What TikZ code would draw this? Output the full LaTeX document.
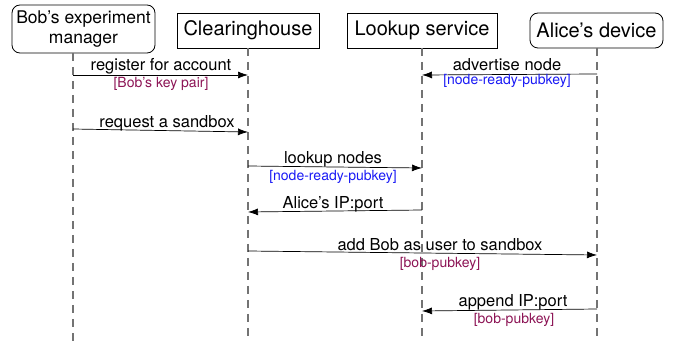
\documentclass[tikz,border=0pt]{standalone}
\usepackage{fontspec}
\setmainfont{TeX Gyre Heros}
\usetikzlibrary{arrows.meta}
\definecolor{keypurple}{RGB}{140,20,85}
\definecolor{keyblue}{RGB}{25,25,245}
\tikzset{
  actor/.style={draw=black, line width=0.8pt, minimum height=35pt, inner sep=2pt, align=center, font=\fontsize{20}{21}\selectfont},
  ractor/.style={actor, rounded corners=8pt},
  lifeline/.style={draw=black!55, line width=1.8pt, dash pattern=on 8pt off 6pt},
  msg/.style={draw=black, line width=0.7pt, -{Latex[length=10pt,width=7pt]}},
  lbl/.style={font=\fontsize{16.5}{17}\selectfont, inner sep=0pt},
  sub/.style={font=\fontsize{14}{15}\selectfont, inner sep=0pt},
}
\begin{document}
\begin{tikzpicture}[x=1pt,y=-1pt]
\useasboundingbox (0,0) rectangle (673,342);
% actors
\node[ractor, minimum width=143pt, minimum height=48pt, font=\fontsize{17.5}{20}\selectfont] (bob) at (83.5,29) {Bob’s experiment\\manager};
\node[actor, minimum width=142pt] (ch) at (248,30.5) {Clearinghouse};
\node[actor, minimum width=150pt] (ls) at (422,30.5) {Lookup service};
\node[ractor, minimum width=133pt] (al) at (596.5,30.5) {Alice’s device};
% lifeline ends
\coordinate (bobT) at (73,53); \coordinate (bobB) at (73,342);
\coordinate (chT) at (248,48); \coordinate (chB) at (248,342);
\coordinate (lsT) at (422,48); \coordinate (lsB) at (422,342);
\coordinate (alT) at (597,48); \coordinate (alB) at (597,342);
\draw[lifeline] (bobT) -- (bobB);
\draw[lifeline] (chT) -- (chB);
\draw[lifeline] (lsT) -- (lsB);
\draw[lifeline] (alT) -- (alB);
% message end points
\coordinate (m1a) at (73,75);   \coordinate (m1b) at (248,75);
\coordinate (m2a) at (597,74);  \coordinate (m2b) at (422,75);
\coordinate (m3a) at (73,129);  \coordinate (m3b) at (248,132);
\coordinate (m4a) at (248,166); \coordinate (m4b) at (422,168);
\coordinate (m5a) at (422,210); \coordinate (m5b) at (248,212);
\coordinate (m6a) at (248,251); \coordinate (m6b) at (597,255);
\coordinate (m7a) at (597,309); \coordinate (m7b) at (422,311);
\draw[msg] (m1a) -- (m1b);
\draw[msg] (m2a) -- (m2b);
\draw[msg] (m3a) -- (m3b);
\draw[msg] (m4a) -- (m4b);
\draw[msg] (m5a) -- (m5b);
\draw[msg] (m6a) -- (m6b);
\draw[msg] (m7a) -- (m7b);
% labels
\node[lbl] (l1) at (161,66) {register for account};
\node[sub, text=keypurple] (s1) at (161,84) {[Bob’s key pair]};
\node[lbl] (l2) at (507,65) {advertise node};
\node[sub, text=keyblue] (s2) at (507,81) {[node-ready-pubkey]};
\node[lbl] (l3) at (167,123) {request a sandbox};
\node[lbl] (l4) at (333,159) {lookup nodes};
\node[sub, text=keyblue] (s4) at (333,177) {[node-ready-pubkey]};
\node[lbl] (l5) at (333,204) {Alice’s IP:port};
\node[lbl] (l6) at (440,245) {add Bob as user to sandbox};
\node[sub, text=keypurple] (s6) at (440,264) {[bob-pubkey]};
\node[lbl] (l7) at (513,302) {append IP:port};
\node[sub, text=keypurple] (s7) at (514,320) {[bob-pubkey]};
\end{tikzpicture}
\end{document}
